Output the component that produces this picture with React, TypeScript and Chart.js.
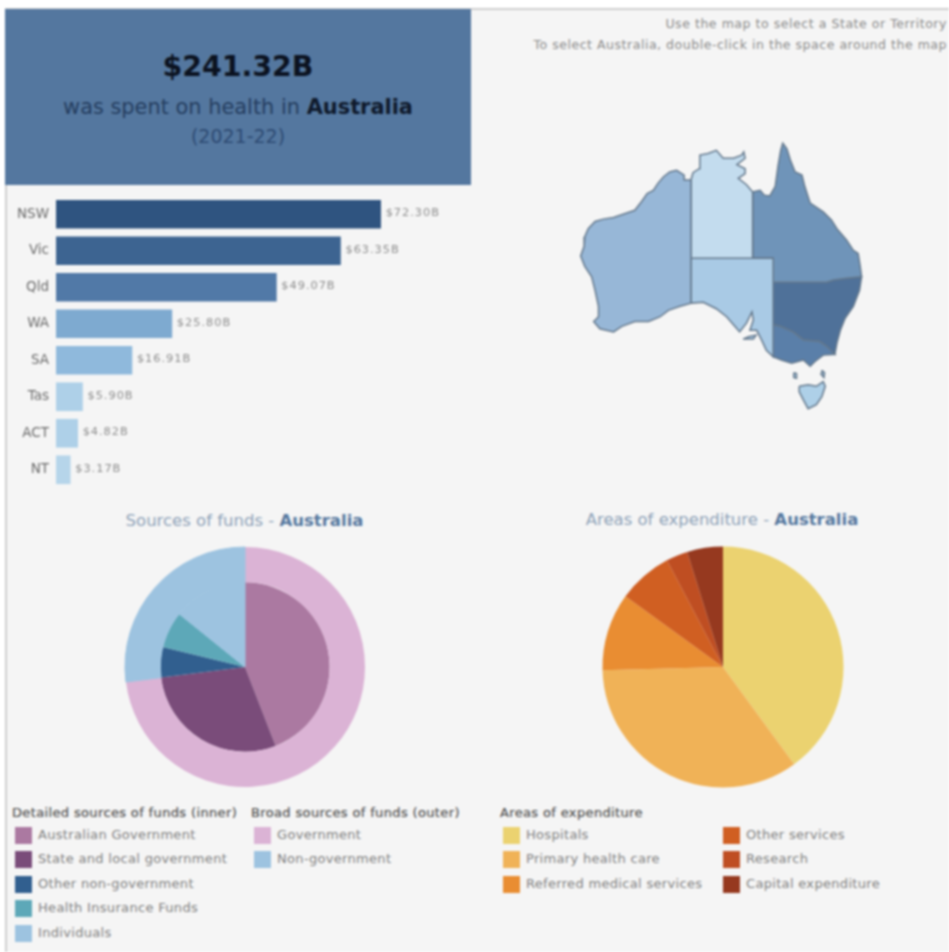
import React, { useEffect, useRef } from "react";
import { Chart, registerables } from "chart.js";

Chart.register(...registerables);

const FONT = '"DejaVu Sans", sans-serif';

// State spending, $ billions
const stateNames = ["NSW", "Vic", "Qld", "WA", "SA", "Tas", "ACT", "NT"];
const stateSpend = [72.3, 63.35, 49.07, 25.8, 16.91, 5.9, 4.82, 3.17];
const stateColours = ["#2f5480", "#3d6491", "#5179a7", "#7eaad0", "#8fb9dc", "#aed0e8", "#aed0e8", "#b6d5ea"];

// Sources of funds, share of total (%)
const detailedNames = ["Australian Government", "State and local government", "Other non-government", "Health Insurance Funds", "Individuals"];
const detailedShare = [44.1, 28.9, 5.8, 7.0, 14.2];
const detailedColours = ["#ab79a1", "#7a4c7a", "#315f8f", "#5da8b8", "#9dc3e0"];
const broadNames = ["Government", "Non-government"];
const broadShare = [73, 27];
const broadColours = ["#dbb3d5", "#9dc3e0"];

// Areas of expenditure, share of total (%)
const areaNames = ["Hospitals", "Primary health care", "Referred medical services", "Other services", "Research", "Capital expenditure"];
const areaShare = [39.9, 34.6, 10.4, 7.3, 2.9, 4.8];
const areaColours = ["#ebd270", "#f0b257", "#e98d32", "#d05f22", "#bf4e22", "#96391f"];

// Map outlines, [longitude, latitude]
const waShape = [[129,-16.2],[128.1,-16.2],[128,-15.6],[126.9,-15],[125.9,-15.2],[125,-15.8],[124.2,-16.6],[123.5,-17.5],[122.6,-17.9],[121.8,-18.9],[120.8,-20],[119.1,-20.5],[117.7,-20.9],[116.2,-21.1],[115,-21.4],[114,-22.3],[113.5,-23.3],[113.4,-24.5],[112.9,-25.7],[113.5,-27],[114.5,-28.3],[115,-30],[115.5,-32],[115.5,-33.3],[114.8,-33.9],[115.7,-34.8],[117.7,-35.2],[118.9,-34.5],[120.8,-33.9],[122.8,-33.9],[124.5,-33.3],[125.7,-32.5],[127.4,-32],[129,-31.6],[129,-16.2]];
const ntShape = [[129,-26],[129,-16.2],[129.3,-15.3],[130.2,-14.8],[130.3,-13.1],[131.5,-12.9],[132.7,-12.5],[133.7,-13.5],[135.2,-13.5],[136.4,-13.1],[136.7,-12.7],[136.9,-13.5],[135.7,-14.3],[136.9,-14.8],[136.9,-15.4],[135.9,-16],[137.1,-16.8],[138,-17.7],[138,-26],[129,-26]];
const qldShape = [[138,-17.7],[139.1,-17.5],[139.7,-18.1],[140.5,-18.2],[141.3,-17],[141.7,-14.5],[142.1,-12.5],[142.4,-11.6],[143,-12.3],[143.5,-13.7],[144.2,-15.2],[145.2,-15.6],[145.6,-17],[146.4,-19.1],[148.3,-20.2],[149.5,-21.2],[150.3,-22.3],[151.7,-23.7],[152.7,-25],[153.4,-25.4],[153.7,-27],[153.9,-28.3],[151.7,-28.5],[149.8,-28.7],[148.8,-29],[141,-29],[141,-26],[138,-26],[138,-17.7]];
const nswShape = [[141,-29],[148.8,-29],[149.8,-28.6],[151.7,-28.5],[153.9,-28.3],[153.6,-30],[152.7,-32],[151.5,-33.5],[150.8,-35],[150.3,-36.6],[150,-38],[148.8,-37],[147.8,-36.4],[145.4,-36.2],[143.9,-35.2],[142,-34.5],[141,-34.3],[141,-29]];
const vicShape = [[141,-34.3],[142,-34.5],[143.9,-35.2],[145.4,-36.2],[147.8,-36.4],[148.8,-37],[150,-38],[148.3,-38.1],[147.1,-38.9],[146.4,-39.5],[145.4,-38.7],[143.7,-39.1],[142.2,-38.7],[141,-38.3],[141,-34.3]];
const saShape = [[129,-26],[129,-31.6],[130.8,-31.5],[132.7,-32.3],[134.2,-33.3],[135.4,-34.5],[136.1,-35.2],[137.1,-34.1],[137.9,-32.7],[138.1,-33.7],[137.6,-35],[138.6,-35],[139.3,-36.2],[140,-37.5],[141,-38.3],[141,-26],[129,-26]];
const kangarooShape = [[136.6,-36.1],[137.4,-35.8],[138.5,-35.6],[138.1,-36.1],[136.6,-36.1]];
const tasShape = [[144.8,-42],[146.1,-41.8],[147.3,-42],[148.3,-41.4],[148.6,-42],[148.1,-43.3],[147.3,-44.3],[146.1,-44.8],[145.4,-43.7],[144.8,-42.7],[144.8,-42]];
const kingShape = [[144,-40.3],[144.4,-40.4],[144.4,-41],[144,-40.9],[144,-40.3]];
const flindersShape = [[148.1,-40],[148.5,-40.3],[148.4,-40.9],[148,-40.5],[148.1,-40]];
const actShape = [[149,-35.5],[149.4,-35.4],[149.4,-35.9],[149.1,-36],[149,-35.5]];
const mapLayers: [number[][], string][] = [
  [waShape, "#97b7d7"], [ntShape, "#c3dcee"], [saShape, "#a9cae5"], [qldShape, "#6f94b9"],
  [vicShape, "#5a7fa9"], [nswShape, "#4f7199"], [actShape, "#b9d3e6"], [kangarooShape, "#a9cae5"],
  [tasShape, "#aed0e8"], [kingShape, "#aed0e8"], [flindersShape, "#aed0e8"],
];

function ChartCanvas({ config, style, width, height }: any) {
  const ref = useRef<HTMLCanvasElement>(null);
  useEffect(() => {
    const chart = new Chart(ref.current as HTMLCanvasElement, config());
    return () => chart.destroy();
  }, []);
  return <canvas ref={ref} width={width} height={height} style={{ position: "absolute", width, height, ...style }} />;
}

const barLabels = {
  id: "barLabels",
  afterDatasetsDraw(chart: any) {
    const { ctx, scales } = chart;
    ctx.save();
    ctx.font = `11.3px ${FONT}`;
    ctx.letterSpacing = "1px";
    ctx.fillStyle = "#8d8d8d";
    ctx.textBaseline = "middle";
    stateSpend.forEach((v, i) => {
      ctx.fillText(`$${v.toFixed(2)}B`, scales.x.getPixelForValue(v) + 5, scales.y.getPixelForValue(i) - 1);
    });
    ctx.restore();
  },
};

const barConfig = () => ({
  type: "bar",
  data: {
    labels: stateNames,
    datasets: [{ data: stateSpend, backgroundColor: stateColours, borderWidth: 0, barThickness: 28 }],
  },
  options: {
    animation: false,
    responsive: false,
    indexAxis: "y",
    layout: { padding: 0 },
    plugins: { legend: { display: false }, tooltip: { enabled: false } },
    scales: {
      x: { display: false, min: 0, max: 92.2 },
      y: {
        grid: { display: false, drawTicks: false },
        border: { display: false },
        afterFit: (s: any) => { s.width = 56; s.paddingTop = 0; s.paddingBottom = 0; },
        ticks: { padding: 7, color: "#6a6a6a", font: { family: "DejaVu Sans", size: 13.5 } },
      },
    },
  },
  plugins: [barLabels],
});

const mapConfig = () => ({
  type: "scatter",
  data: {
    datasets: mapLayers.map(([shape, colour]) => ({
      data: shape.map(([x, y]) => ({ x, y })),
      showLine: true,
      fill: "shape",
      tension: 0,
      pointRadius: 0,
      backgroundColor: colour,
      borderColor: "#64788c",
      borderWidth: 1.5,
    })),
  },
  options: {
    animation: false,
    responsive: false,
    layout: { padding: 0 },
    plugins: { legend: { display: false }, tooltip: { enabled: false } },
    scales: {
      x: { display: false, min: 109.88, max: 156.59 },
      y: { display: false, min: -46.21, max: -9.96 },
    },
  },
});

const pieOptions = {
  animation: false,
  responsive: false,
  layout: { padding: 4.5 },
  plugins: { legend: { display: false }, tooltip: { enabled: false } },
};

const sourcesConfig = () => ({
  type: "pie",
  data: {
    labels: detailedNames,
    datasets: [
      { data: broadShare, backgroundColor: broadColours, borderColor: broadColours, borderWidth: [0, 1], weight: 35.5 },
      { data: detailedShare, backgroundColor: detailedColours, borderColor: detailedColours, borderWidth: [0, 0, 0, 0, 1], weight: 85 },
    ],
  },
  options: pieOptions,
});

const areasConfig = () => ({
  type: "pie",
  data: {
    labels: areaNames,
    datasets: [{ data: areaShare, backgroundColor: areaColours, borderWidth: 0 }],
  },
  options: pieOptions,
});

const abs = (left: number, top: number, extra: any = {}): any => ({ position: "absolute", left, top, whiteSpace: "nowrap", ...extra });

function Legend({ x, y, title, names, colours }: any) {
  return (
    <>
      {title && <div style={abs(x - 3, y - 9, { font: `13px ${FONT}`, letterSpacing: "0.36px", color: "#505050", lineHeight: "18px", WebkitTextStroke: "0.2px #505050" })}>{title}</div>}
      {names.map((n: string, i: number) => {
        const cy = y + 22 + Math.round(i * 24.4);
        return (
          <React.Fragment key={n}>
            <div style={abs(x, cy - 8, { width: 17, height: 17, background: colours[i] })} />
            <div style={abs(x + 23, cy - 9, { font: `13px ${FONT}`, letterSpacing: "0.32px", color: "#808080", lineHeight: "18px" })}>{n}</div>
          </React.Fragment>
        );
      })}
    </>
  );
}

function Title({ cx, y, text }: any) {
  return (
    <div style={abs(cx - 200, y - 12, { width: 400, textAlign: "center", font: `16.5px ${FONT}`, color: "#8ea2b8", lineHeight: "24px" })}>
      {text} - <b style={{ color: "#56789f", fontWeight: 700 }}>Australia</b>
    </div>
  );
}

export default function App() {
  return (
    <div style={{ position: "absolute", left: 0, top: 0, width: 949, height: 952, overflow: "hidden", background: "#fff" }}>
      <div style={{ position: "absolute", left: 0, top: 0, width: 949, height: 952, filter: "blur(0.9px)" }}>
        <div style={abs(5, 8, { width: 944, height: 944, background: "#f5f5f5", borderTop: "2px solid #cfcfcf", borderLeft: "2px solid #cfcfcf", boxSizing: "border-box" })} />
        <div style={abs(5, 9, { width: 466, height: 176, background: "#54779f" })} />
        <div style={abs(5, 45, { width: 466, textAlign: "center", font: `700 28.4px ${FONT}`, color: "#0b1220", lineHeight: "44px" })}>$241.32B</div>
        <div style={abs(5, 92, { width: 466, textAlign: "center", font: `20.9px ${FONT}`, color: "#253e60", lineHeight: "30px" })}>
          was spent on health in <b style={{ color: "#0f1a2c" }}>Australia</b>
        </div>
        <div style={abs(5, 123, { width: 466, textAlign: "center", font: `19px ${FONT}`, color: "#2d4a72", lineHeight: "26px" })}>(2021-22)</div>

        <div style={abs(447, 15, { width: 500, textAlign: "right", font: `12.5px ${FONT}`, letterSpacing: "0.55px", color: "#8a8a8a", lineHeight: "18px" })}>Use the map to select a State or Territory</div>
        <div style={abs(447, 36, { width: 500, textAlign: "right", font: `12.5px ${FONT}`, letterSpacing: "0.53px", color: "#8a8a8a", lineHeight: "18px" })}>To select Australia, double-click in the space around the map</div>

        <ChartCanvas config={barConfig} width={470} height={292} style={{ left: 0, top: 196 }} />
        <ChartCanvas config={mapConfig} width={320} height={290} style={{ left: 560, top: 130 }} />

        <Title cx={244.5} y={521} text="Sources of funds" />
        <Title cx={722} y={520} text="Areas of expenditure" />
        <ChartCanvas config={sourcesConfig} width={250} height={250} style={{ left: 120, top: 541.5 }} />
        <ChartCanvas config={areasConfig} width={250} height={250} style={{ left: 598, top: 541.5 }} />

        <Legend x={15} y={813} title="Detailed sources of funds (inner)" names={detailedNames} colours={detailedColours} />
        <Legend x={254} y={813} title="Broad sources of funds (outer)" names={broadNames} colours={broadColours} />
        <Legend x={503} y={813} title="Areas of expenditure" names={areaNames.slice(0, 3)} colours={areaColours.slice(0, 3)} />
        <Legend x={723} y={813} names={areaNames.slice(3)} colours={areaColours.slice(3)} />
      </div>
    </div>
  );
}
